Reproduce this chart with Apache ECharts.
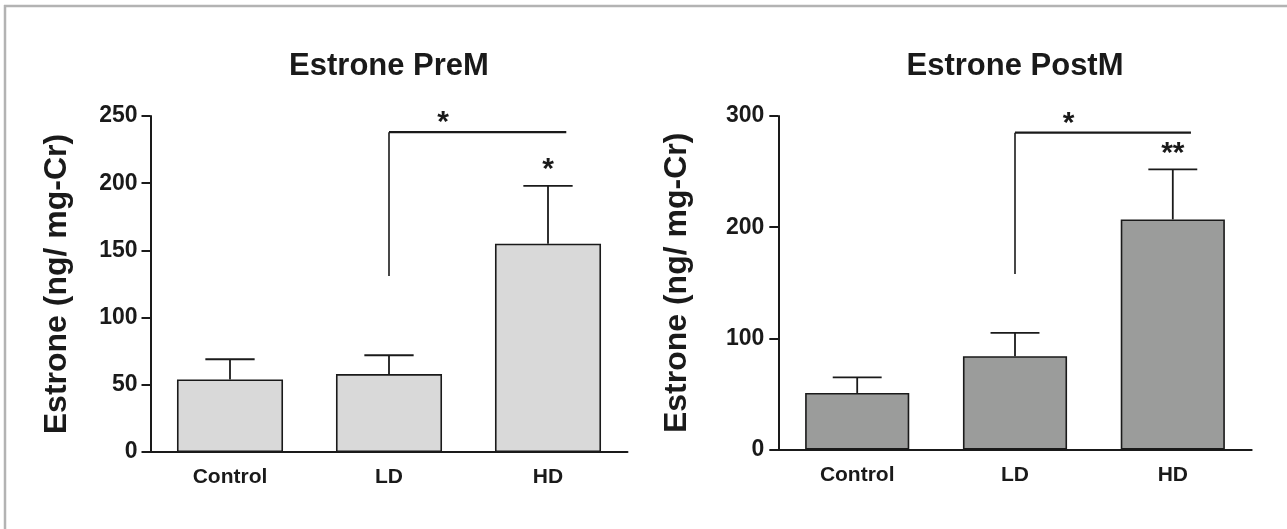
<!DOCTYPE html>
<html>
<head>
<meta charset="utf-8">
<script src="https://cdn.jsdelivr.net/npm/echarts@6/dist/echarts.min.js"></script>
<style>
  html, body { margin: 0; padding: 0; background: #fff; }
  #chart { width: 1287px; height: 529px; }
</style>
</head>
<body>
<div id="chart"></div>
<script>
// groups on the x axis
var categories = ['Control', 'LD', 'HD'];

// Estrone PreM: mean and error (SEM, upper only)
var preMean = [54, 58, 155];
var preErr = [15, 14, 43];
var preStars = ['', '', '*'];
// LD vs HD bracket: [from, to, drop level, bracket level, label]
var preBracket = [1, 2, 131, 238, '*'];

// Estrone PostM
var postMean = [51, 84, 207];
var postErr = [14, 21, 45];
var postStars = ['', '', '**'];
var postBracket = [1, 2, 158, 285, '*'];

var preTicks = { min: 0, max: 250, interval: 50 };
var postTicks = { min: 0, max: 300, interval: 100 };

var FONT = '"Liberation Sans", Arial, sans-serif';
var INK = '#1a1a1a';

var chart = echarts.init(document.getElementById('chart'));

function errData(mean, err) {
  return mean.map(function (m, i) { return [i, m, m + err[i]]; });
}

function errorItem(stars) {
  return function (params, api) {
    var base = api.coord([api.value(0), api.value(1)]);
    var top = api.coord([api.value(0), api.value(2)]);
    var half = api.size([1, 0])[0] * 0.155;
    var st = { stroke: INK, lineWidth: 1.8 };
    return {
      type: 'group',
      children: [
        { type: 'line', shape: { x1: base[0], y1: base[1], x2: top[0], y2: top[1] }, style: st },
        { type: 'line', shape: { x1: top[0] - half, y1: top[1], x2: top[0] + half, y2: top[1] }, style: st },
        {
          type: 'text', x: top[0], y: top[1] - 1,
          style: { text: stars[params.dataIndex], fill: INK, font: 'bold 30px ' + FONT, align: 'center', verticalAlign: 'bottom' }
        }
      ]
    };
  };
}

function bracketItem(b) {
  return function (params, api) {
    var low = api.coord([b[0], b[2]]);
    var p1 = api.coord([b[0], b[3]]);
    var p2 = api.coord([b[1], b[3]]);
    var band = api.size([1, 0])[0];
    var endX = p2[0] + band * 0.115;
    return {
      type: 'group',
      children: [
        { type: 'line', shape: { x1: low[0], y1: low[1], x2: p1[0], y2: p1[1] }, style: { stroke: INK, lineWidth: 1.6 } },
        { type: 'line', shape: { x1: p1[0], y1: p1[1], x2: endX, y2: p1[1] }, style: { stroke: INK, lineWidth: 2.2 } },
        {
          type: 'text', x: p1[0] + (p2[0] - p1[0]) * 0.34, y: p1[1] + 6,
          style: { text: b[4], fill: INK, font: 'bold 30px ' + FONT, align: 'center', verticalAlign: 'bottom' }
        }
      ]
    };
  };
}

function xAxis(idx) {
  return {
    type: 'category', gridIndex: idx, data: categories,
    axisLine: { lineStyle: { color: INK, width: 2 } },
    axisTick: { alignWithLabel: true, length: 9, lineStyle: { color: INK, width: 2 } },
    axisLabel: { color: INK, fontFamily: FONT, fontWeight: 'bold', fontSize: 21, margin: 15 }
  };
}

function yAxis(idx, t, gap, margin) {
  return {
    type: 'value', gridIndex: idx, min: t.min, max: t.max, interval: t.interval,
    name: 'Estrone (ng/ mg-Cr)', nameLocation: 'middle', nameGap: gap,
    nameTextStyle: { color: INK, fontFamily: FONT, fontWeight: 'bold', fontSize: 32 },
    axisLine: { show: true, lineStyle: { color: INK, width: 2 } },
    axisTick: { show: true, length: 9, lineStyle: { color: INK, width: 2 } },
    axisLabel: { color: INK, fontFamily: FONT, fontWeight: 'bold', fontSize: 23, margin: margin },
    splitLine: { show: false }
  };
}

var option = {
  animation: false,
  title: [
    { text: 'Estrone PreM', left: 389, top: 51, textAlign: 'center', padding: 0,
      textStyle: { color: INK, fontFamily: FONT, fontWeight: 'bold', fontSize: 31 } },
    { text: 'Estrone PostM', left: 1015, top: 51, textAlign: 'center', padding: 0,
      textStyle: { color: INK, fontFamily: FONT, fontWeight: 'bold', fontSize: 31 } }
  ],
  grid: [
    { left: 150.5, top: 116, width: 477, height: 336 },
    { left: 778.3, top: 116, width: 473.4, height: 333.7 }
  ],
  xAxis: [xAxis(0), xAxis(1)],
  yAxis: [yAxis(0, preTicks, 77, 13), yAxis(1, postTicks, 85, 14)],
  graphic: [
    { type: 'line', shape: { x1: 4, y1: 6, x2: 1287, y2: 6 }, style: { stroke: '#b3b3b3', lineWidth: 2.5 } },
    { type: 'line', shape: { x1: 5, y1: 5, x2: 5, y2: 529 }, style: { stroke: '#b3b3b3', lineWidth: 2.5 } }
  ],
  series: [
    {
      type: 'bar', xAxisIndex: 0, yAxisIndex: 0, data: preMean, barWidth: '66.7%',
      itemStyle: { color: '#d9d9d9', borderColor: INK, borderWidth: 1.6 }
    },
    {
      type: 'bar', xAxisIndex: 1, yAxisIndex: 1, data: postMean, barWidth: '66%',
      itemStyle: { color: '#9b9c9b', borderColor: INK, borderWidth: 1.6 }
    },
    {
      type: 'custom', xAxisIndex: 0, yAxisIndex: 0, z: 5,
      data: errData(preMean, preErr), renderItem: errorItem(preStars)
    },
    {
      type: 'custom', xAxisIndex: 1, yAxisIndex: 1, z: 5,
      data: errData(postMean, postErr), renderItem: errorItem(postStars)
    },
    {
      type: 'custom', xAxisIndex: 0, yAxisIndex: 0, z: 5,
      data: [[preBracket[0], preBracket[3]]], renderItem: bracketItem(preBracket)
    },
    {
      type: 'custom', xAxisIndex: 1, yAxisIndex: 1, z: 5,
      data: [[postBracket[0], postBracket[3]]], renderItem: bracketItem(postBracket)
    }
  ]
};

chart.setOption(option);
window.addEventListener('resize', function () { chart.resize(); });
</script>
</body>
</html>
